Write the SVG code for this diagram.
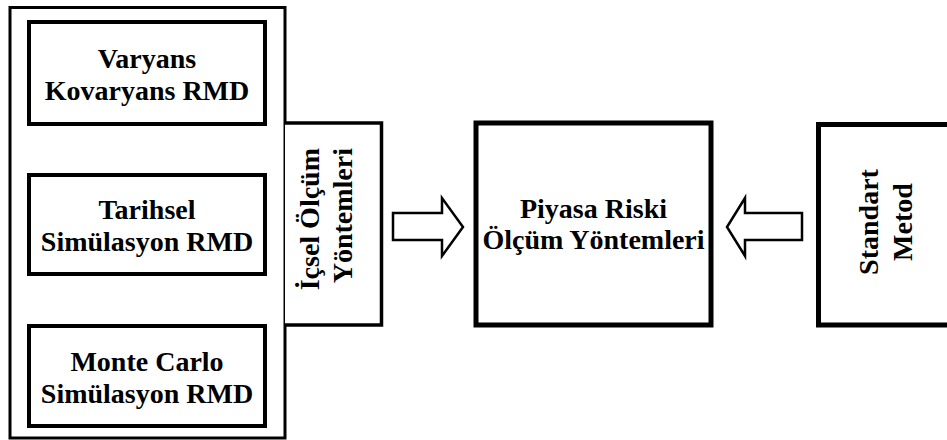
<svg xmlns="http://www.w3.org/2000/svg" width="947" height="440" viewBox="0 0 947 440">
<style>
  .box { fill: #fff; stroke: #000; }
  .t { font-family: "Liberation Serif", "Times New Roman", serif; font-weight: bold; font-size: 28px; fill: #000; }
  .c { text-anchor: middle; }
  .arrow { fill: #fff; stroke: #000; stroke-width: 2.5; stroke-linejoin: miter; }
</style>
<rect width="947" height="440" fill="#fff"/>
<g id="ic-group">
  <rect class="box" x="10" y="7.5" width="275" height="430.5" stroke-width="3"/>
</g>
<g id="varyans">
  <rect class="box" x="29" y="22" width="236" height="102" stroke-width="4"/>
  <text class="t c" x="147" y="68">Varyans</text>
  <text class="t c" x="147" y="100">Kovaryans RMD</text>
</g>
<g id="tarihsel">
  <rect class="box" x="29" y="175" width="236" height="99" stroke-width="4"/>
  <text class="t c" x="147" y="219">Tarihsel</text>
  <text class="t c" x="147" y="251">Simülasyon RMD</text>
</g>
<g id="montecarlo">
  <rect class="box" x="29" y="326" width="236" height="100" stroke-width="4"/>
  <text class="t c" x="147" y="371">Monte Carlo</text>
  <text class="t c" x="147" y="403">Simülasyon RMD</text>
</g>
<g id="icsel">
  <path class="box" d="M285,123 H381.5 V325 H285" fill="none" stroke-width="3.5"/>
  <text class="t" text-anchor="end" transform="translate(319,148) rotate(-90)">İçsel Ölçüm</text>
  <text class="t" text-anchor="end" transform="translate(352,148) rotate(-90)">Yöntemleri</text>
</g>
<g id="piyasa">
  <rect class="box" x="476" y="123" width="235" height="202" stroke-width="5"/>
  <text class="t c" x="593.5" y="218">Piyasa Riski</text>
  <text class="t c" x="593.5" y="249">Ölçüm Yöntemleri</text>
</g>
<g id="standart">
  <rect class="box" x="818.5" y="124.5" width="140" height="200.5" stroke-width="5"/>
  <text class="t c" transform="translate(878,222) rotate(-90)">Standart</text>
  <text class="t c" transform="translate(912,222) rotate(-90)">Metod</text>
</g>
<g id="connectors">
  <polygon class="arrow" points="393,213 442,213 442,198 463,227 442,256 442,240 393,240"/>
  <polygon class="arrow" points="802,213 745,213 745,198 727,227 745,256 745,240 802,240"/>
</g>
</svg>
